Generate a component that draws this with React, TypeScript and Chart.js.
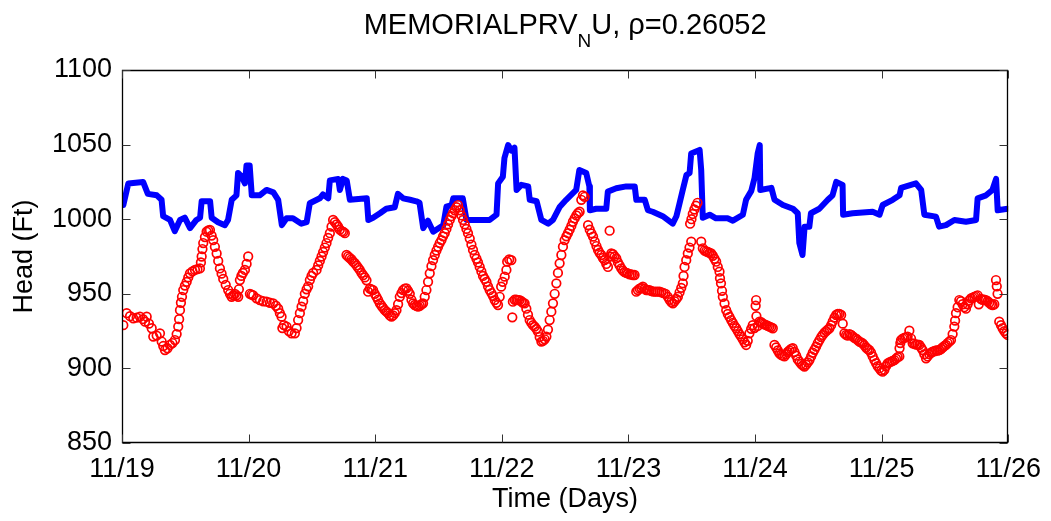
import React, { useEffect, useRef } from "react";
import { Chart, registerables } from "chart.js";

Chart.register(...registerables);

const FONT = "'Liberation Sans', Arial, Helvetica, sans-serif";

const dayLabels = ["11/19", "11/20", "11/21", "11/22", "11/23", "11/24", "11/25", "11/26"];
const dayTickHours = [0, 24, 48, 72, 96, 120, 144, 168];
const headTicks = [850, 900, 950, 1000, 1050, 1100];
const titleMain = "MEMORIALPRV";
const titleSub = "N";
const titleRest = "U, \u03C1=0.26052";
const xAxisTitle = "Time (Days)";
const yAxisTitle = "Head (Ft)";

// Simulated head (blue line), hours since 11/19 00:00
const blueHours = [
  0.25, 1.2, 4.0, 4.9, 6.6, 7.5, 7.8, 9.1, 10.0, 11.0, 11.9, 12.9, 14.1, 14.8, 15.1, 16.7, 17.0, 18.2, 19.5, 20.1,
  20.8, 21.7, 22.0, 22.7, 23.3, 23.6, 24.2, 24.6, 26.1, 27.4, 28.7, 29.6, 30.3, 31.2, 32.4, 34.0, 35.0, 35.6, 37.5, 38.1,
  39.1, 39.4, 41.0, 41.3, 41.9, 42.6, 43.2, 46.4, 46.7, 47.6, 48.9, 50.1, 51.7, 52.3, 53.3, 54.6, 55.8, 56.4, 57.1, 58.0,
  59.0, 60.9, 61.5, 62.5, 62.8, 64.6, 65.3, 69.7, 71.0, 71.3, 72.2, 72.5, 73.2, 73.8, 74.4, 74.8, 75.7, 77.0, 77.3, 78.6,
  79.5, 80.8, 81.7, 83.0, 84.2, 86.1, 86.7, 88.0, 88.6, 88.7, 89.9, 91.8, 92.1, 93.7, 95.6, 97.2, 97.5, 99.1, 99.7, 100.6,
  102.5, 104.4, 105.1, 105.7, 106.3, 107.0, 107.6, 107.9, 109.5, 109.8, 110.1, 111.4, 112.6, 114.8, 115.8, 117.7, 118.3, 119.3, 119.9, 120.5,
  120.9, 121.0, 123.1, 123.7, 125.3, 127.2, 128.1, 128.4, 129.0, 129.4, 130.3, 130.6, 132.2, 133.8, 134.7, 135.4, 136.6, 136.7, 138.5, 142.3,
  143.6, 144.2, 146.1, 147.4, 147.7, 150.5, 151.5, 152.1, 154.3, 154.9, 156.2, 157.8, 160.0, 161.9, 162.2, 163.8, 165.0, 165.7, 166.0, 167.9,
];
const blueHead = [
  1009.5, 1024, 1025, 1017, 1016, 1013, 1002, 999.5, 992, 999.5, 1001, 994, 999.5, 1001, 1012, 1012, 1001, 998, 996, 999.5,
  1013, 1016, 1031, 1028.5, 1024, 1036, 1036, 1016, 1016, 1019.6, 1018, 1013, 996, 1000.6, 1000.6, 997, 998, 1010.7, 1014, 1016.6,
  1014, 1026, 1027, 1019.6, 1027, 1026, 1013, 1014, 999.5, 1001, 1004, 1007, 1008, 1017, 1014, 1013, 1012, 1011, 994, 999,
  991.6, 996, 1008.4, 1009.5, 1014, 1014, 999.5, 999.5, 1003, 1024, 1028.5, 1041, 1049.7, 1046, 1048, 1019.6, 1023, 1022, 1013, 1012,
  999.5, 997, 999.5, 1008.4, 1013, 1019.6, 1033, 1031, 1022, 1006, 1007, 1007, 1018.5, 1020.7, 1022, 1022, 1013, 1013, 1006, 1005,
  1002, 997, 1002, 1010.7, 1019.6, 1029.6, 1031, 1044, 1046.4, 1033, 1001, 1003, 1000.6, 1000.6, 999, 1003, 1013, 1019, 1027.4, 1044,
  1049.7, 1019.6, 1021, 1013, 1009.5, 1007, 1004, 984, 976, 995, 995, 1004, 1007, 1013, 1016, 1025, 1023, 1003, 1004, 1005,
  1003, 1009.5, 1013, 1016, 1021, 1024, 1019.6, 1003, 1001.7, 995, 996, 999.5, 998.3, 999.5, 1014, 1016, 1019.6, 1027, 1006, 1007,
];

// Measured head (red circles), hours since 11/19 00:00
const redHours = [
  0.25, 0.89, 1.52, 2.14, 2.78, 3.41, 3.98, 4.36, 4.68, 5.11, 5.63, 5.93, 6.57, 7.2, 7.52, 7.82, 8.14, 8.62, 9.09, 9.56,
  10.04, 10.36, 10.66, 10.83, 10.99, 11.17, 11.37, 11.61, 11.93, 12.26, 12.56, 12.88, 13.35, 13.83, 14.3, 14.77, 14.96, 15.1, 15.25, 15.4,
  15.72, 16.04, 16.35, 16.67, 16.99, 17.29, 17.61, 17.94, 18.24, 18.56, 18.88, 19.19, 19.66, 20.13, 20.46, 20.78, 21.08, 21.4, 21.72, 22.03,
  22.16, 22.35, 22.63, 22.92, 23.3, 23.62, 23.92, 24.25, 24.57, 24.87, 25.51, 26.14, 26.77, 27.41, 28.03, 28.66, 29.17, 29.61, 29.93, 30.25,
  30.4, 30.69, 31.2, 31.63, 32.14, 32.77, 33.09, 33.39, 33.72, 34.04, 34.34, 34.66, 34.99, 35.29, 35.61, 35.93, 36.24, 36.88, 37.19, 37.5,
  37.83, 38.13, 38.45, 38.77, 39.08, 39.4, 39.72, 40.02, 40.35, 40.67, 40.97, 41.29, 41.67, 41.96, 42.24, 42.56, 42.86, 43.18, 43.51, 43.81,
  44.13, 44.46, 44.76, 45.08, 45.4, 45.71, 46.03, 46.35, 46.65, 46.97, 47.29, 47.6, 47.92, 48.24, 48.54, 48.87, 49.19, 49.49, 49.82, 50.14,
  50.44, 50.76, 51.09, 51.39, 51.71, 52.03, 52.34, 52.66, 52.98, 53.28, 53.6, 53.92, 54.23, 54.55, 54.87, 55.18, 55.5, 55.82, 56.12, 56.45,
  56.77, 57.07, 57.39, 57.71, 58.02, 58.34, 58.66, 58.97, 59.29, 59.61, 59.92, 60.23, 60.56, 60.86, 61.18, 61.5, 61.81, 62.13, 62.45, 62.75,
  63.07, 63.4, 63.7, 64.02, 64.34, 64.65, 64.97, 65.29, 65.59, 65.92, 66.24, 66.54, 66.86, 67.19, 67.49, 67.81, 68.13, 68.44, 68.76, 69.08,
  69.38, 69.7, 70.03, 70.33, 70.65, 70.98, 71.28, 71.6, 71.88, 72.17, 72.55, 72.87, 73.02, 73.4, 73.81, 73.99, 74.1, 74.43, 74.75, 75.05,
  75.37, 75.7, 76.0, 76.33, 76.65, 76.96, 77.28, 77.6, 77.91, 78.23, 78.55, 78.86, 79.18, 79.5, 79.8, 80.13, 80.45, 80.75, 81.07, 81.39,
  81.7, 82.02, 82.34, 82.64, 82.96, 83.29, 83.59, 83.91, 84.24, 84.54, 84.86, 85.18, 85.48, 85.81, 86.13, 86.43, 86.75, 87.07, 87.38, 87.7,
  88.35, 88.67, 88.99, 89.3, 89.62, 89.94, 90.24, 90.54, 90.86, 91.17, 91.49, 91.81, 92.12, 92.44, 92.5, 92.76, 93.07, 93.38, 93.7, 94.01,
  94.33, 94.65, 94.96, 95.28, 95.6, 95.9, 96.23, 96.55, 96.85, 97.17, 97.49, 97.8, 98.12, 98.44, 98.74, 99.07, 99.39, 99.69, 100.01, 100.39,
  100.77, 101.15, 101.53, 101.91, 102.29, 102.66, 103.04, 103.48, 103.8, 104.12, 104.43, 104.75, 105.07, 105.38, 105.7, 106.02, 106.32, 106.45, 106.64, 106.96,
  107.26, 107.58, 107.91, 107.7, 107.95, 108.2, 108.5, 108.8, 109.1, 109.8, 110.1, 110.43, 110.75, 111.05, 111.37, 111.69, 112.0, 112.32, 112.64, 112.94,
  113.27, 113.36, 113.55, 113.74, 113.9, 114.22, 114.54, 114.84, 115.16, 115.48, 115.79, 116.11, 116.43, 116.73, 117.05, 117.37, 117.68, 118.0, 118.32, 118.62,
  118.94, 119.27, 119.57, 119.89, 120.12, 120.21, 120.27, 120.53, 120.85, 121.17, 121.47, 121.79, 122.12, 122.42, 122.74, 123.06, 123.37, 123.69, 124.01, 124.32,
  124.64, 124.96, 125.26, 125.58, 125.91, 126.21, 126.53, 126.85, 127.16, 127.48, 127.8, 128.1, 128.42, 128.75, 129.05, 129.37, 129.69, 130.0, 130.32, 130.64,
  130.95, 131.27, 131.59, 131.9, 132.22, 132.54, 132.84, 133.17, 133.49, 133.79, 134.11, 134.43, 134.74, 135.06, 135.38, 135.68, 136.0, 136.33, 136.63, 136.95,
  137.27, 137.57, 137.89, 138.21, 138.52, 138.84, 139.16, 139.46, 139.78, 140.11, 140.41, 140.73, 141.05, 141.36, 141.68, 142.0, 142.31, 142.63, 142.95, 143.25,
  143.58, 143.9, 144.2, 144.52, 144.84, 145.15, 145.47, 145.79, 146.09, 146.41, 146.74, 147.04, 147.36, 147.4, 147.55, 147.68, 147.99, 148.31, 148.63, 148.93,
  149.26, 149.58, 149.88, 150.2, 150.53, 150.83, 151.15, 151.47, 151.78, 152.1, 152.42, 152.72, 153.04, 153.37, 153.67, 153.99, 154.31, 154.62, 154.94, 155.26,
  155.56, 155.88, 156.21, 156.51, 156.83, 157.15, 157.46, 157.78, 157.93, 158.1, 158.41, 158.73, 159.05, 159.35, 159.67, 159.99, 160.3, 160.62, 160.94, 161.25,
  161.57, 161.89, 162.2, 162.42, 162.84, 163.14, 163.46, 163.78, 164.09, 164.41, 164.73, 165.04, 165.36, 165.68, 165.83, 165.98, 166.3, 166.63, 166.93, 167.25,
  167.57, 167.88,
];
const redHead = [
  929, 937, 935, 933.6, 934, 934.7, 933, 931.3, 934.7, 930, 926.9, 921.3, 922, 923.5, 918, 915, 912.3, 913.5, 915.7, 917,
  919, 923, 928, 933, 939, 944, 948, 952.5, 955.5, 958, 961, 963.7, 965, 966, 966.5, 967, 971, 975, 980, 984,
  988, 991.6, 992.5, 992.8, 989, 986, 981.5, 977, 972, 967, 963.5, 960, 956, 952.5, 950, 948, 949, 950, 949, 948,
  953, 959.2, 962, 964, 966, 970, 975, 950, 949.5, 949, 947, 945.8, 945, 944.7, 944, 943.6, 942, 940, 937, 934.7,
  927, 929, 928, 925, 923.5, 923.5, 927, 932.4, 937, 941.4, 945, 950, 953, 955, 959.2, 962, 964, 966, 969, 972,
  975, 978, 981, 984, 987.5, 990.6, 995, 999.5, 998, 996.5, 995, 993, 992, 991.5, 990.6, 976, 975, 974, 973, 971.5,
  970.5, 969, 967.5, 966, 964, 962.5, 961, 959, 951.4, 953.5, 953, 952.5, 950, 948, 946, 943.6, 942, 940.5, 939, 938,
  937, 935.5, 934.7, 935.5, 937, 939, 943, 948, 950.5, 952.5, 953.5, 953.7, 952, 950, 946, 943.6, 942.5, 942, 941.4, 942,
  943, 943.6, 948, 952.5, 958, 963.7, 968.5, 972.6, 976, 979, 981.5, 984, 986, 988.5, 990.6, 993.5, 996.5, 999.5, 1002, 1004,
  1006, 1008, 1009.5, 1006, 1002.5, 999.5, 996.5, 993.5, 990.6, 987, 983, 979.4, 976, 973.5, 971, 968, 965, 962, 960, 958,
  955, 952.5, 950.5, 948.5, 945.8, 944, 942.5, 948, 954.8, 958, 961.5, 966, 971.5, 973, 972.6, 934.2, 944.7, 946, 946, 945.8,
  945.8, 945, 944, 943.6, 940, 936, 932.4, 930.5, 929, 928, 926.5, 924.6, 921, 918, 918.5, 919.5, 921.3, 926, 932.4, 938,
  943.6, 950, 957, 964, 970.4, 976, 981.6, 986, 988.5, 990.6, 993, 995.5, 998.3, 1000.5, 1002.5, 1004, 1005, 1013, 1016, 1015,
  996, 993, 990.5, 988.3, 985, 982, 979.4, 977.5, 976, 974, 972.6, 970, 968, 992.3, 975, 977, 976.5, 975, 973.8, 971,
  969, 967, 965.5, 964.5, 964, 963.7, 963, 963, 962.6, 962.6, 951.4, 952.5, 953.5, 954, 954.8, 953.5, 952.5, 952.5, 952.5, 951.8,
  951.5, 951.5, 951.4, 951.4, 951, 950.5, 950, 948, 946, 944.5, 943.6, 945, 946.5, 948, 951, 954, 957, 962, 968, 972.5,
  977, 981, 985, 997, 1000, 1003.5, 1006.5, 1009, 1011, 985, 980.5, 979, 978.5, 978, 977.5, 977, 975.5, 973.5, 971.5, 968,
  964.8, 960.5, 957, 952, 948, 943.5, 939, 936.5, 934.5, 932.4, 930.5, 928.5, 926.9, 925, 923, 921.3, 919.5, 917.5, 915.7, 918.5,
  923.5, 926.5, 929, 927, 942, 945.8, 935, 928.5, 931.3, 931, 930, 929.5, 929, 928.5, 928, 927.5, 926.9, 915.7, 914, 912,
  910, 909, 908.5, 908, 909.5, 911, 912, 913, 913.5, 911, 908.5, 906, 904.6, 903, 902, 901.2, 902.5, 904, 905.6, 908,
  910.5, 912.5, 914.6, 917, 919, 921, 922.4, 924, 925, 926, 926.9, 929, 931.5, 934, 935.8, 936.5, 936.5, 935.8, 930, 923.5,
  922.5, 922, 923, 922.5, 921.5, 920.5, 920, 919, 918, 917.5, 916.8, 915.5, 914, 913, 912.3, 910.5, 908, 905.6, 903.5, 901.5,
  900, 898.5, 897.8, 899, 901.5, 903.4, 904, 904.5, 905, 905.6, 906.5, 907.5, 908, 913.5, 917, 919, 920, 920.5, 921, 921.3,
  925.3, 920, 916.8, 916.5, 916, 916, 915.7, 914, 912.3, 909.5, 906.8, 908, 909.5, 910.5, 911.2, 911.5, 912, 912, 912.3, 913,
  914, 915, 915.7, 917, 918, 919, 923, 928, 932, 937, 941, 945.8, 945, 943, 941, 940, 943, 945.5, 947, 947.5,
  948, 948.5, 949, 943, 946.5, 946, 946, 945.8, 945, 944, 943, 942.5, 943, 959.2, 955, 950, 931.3, 929, 926.9, 925,
  923.5, 922.4,
];

const framePlugin = {
  id: "matlabFrame",
  afterDraw(chart: any) {
    const { ctx, chartArea } = chart;
    const { left, right, top, bottom } = chartArea;
    const xs = chart.scales.x;
    const ys = chart.scales.y;
    const L = Math.round(left) + 0.5;
    const R = Math.round(right) - 0.5;
    const T = Math.round(top) + 0.5;
    const B = Math.round(bottom) - 0.5;
    ctx.save();
    ctx.strokeStyle = "#000";
    ctx.lineWidth = 1.3;
    ctx.beginPath();
    ctx.rect(L, T, R - L, B - T);
    ctx.stroke();
    ctx.lineWidth = 1;
    ctx.strokeStyle = "#333";
    const tl = 8;
    ctx.beginPath();
    dayTickHours.forEach((v) => {
      const px = Math.round(xs.getPixelForValue(v)) + 0.5;
      ctx.moveTo(px, B);
      ctx.lineTo(px, B - tl);
      ctx.moveTo(px, T);
      ctx.lineTo(px, T + tl);
    });
    headTicks.forEach((v) => {
      const py = Math.round(ys.getPixelForValue(v)) + 0.5;
      ctx.moveTo(L, py);
      ctx.lineTo(L + tl, py);
      ctx.moveTo(R, py);
      ctx.lineTo(R - tl, py);
    });
    ctx.stroke();

    // title with subscript
    const mainFont = `29px ${FONT}`;
    const subFont = `19px ${FONT}`;
    ctx.fillStyle = "#000";
    ctx.textBaseline = "alphabetic";
    ctx.textAlign = "left";
    ctx.font = mainFont;
    const w1 = ctx.measureText(titleMain).width;
    const w3 = ctx.measureText(titleRest).width;
    ctx.font = subFont;
    const w2 = ctx.measureText(titleSub).width;
    const total = w1 + w2 + w3;
    const cx = (left + right) / 2;
    let x0 = cx - total / 2;
    const baseY = 34;
    ctx.font = mainFont;
    ctx.fillText(titleMain, x0, baseY);
    x0 += w1;
    ctx.font = subFont;
    ctx.fillText(titleSub, x0, baseY + 13);
    x0 += w2;
    ctx.font = mainFont;
    ctx.fillText(titleRest, x0, baseY);
    ctx.restore();
  },
};

export default function App() {
  const canvasRef = useRef<HTMLCanvasElement | null>(null);

  useEffect(() => {
    document.body.style.margin = "0";
    const canvas = canvasRef.current;
    if (!canvas) return;
    const redData = redHours.map((h, i) => ({ x: h, y: redHead[i] }));
    const blueData = blueHours.map((h, i) => ({ x: h, y: blueHead[i] }));
    const chart = new Chart(canvas, {
      type: "scatter",
      data: {
        datasets: [
          {
            label: "Measured",
            data: redData,
            showLine: false,
            pointStyle: "circle",
            pointRadius: 4.3,
            pointBorderWidth: 1.7,
            borderColor: "#ff0000",
            backgroundColor: "rgba(0,0,0,0)",
            order: 0,
          },
          {
            label: "Simulated",
            data: blueData,
            showLine: true,
            borderColor: "#0000ff",
            backgroundColor: "#0000ff",
            borderWidth: 6,
            pointRadius: 0,
            tension: 0,
            borderJoinStyle: "round",
            borderCapStyle: "round",
            order: 1,
          },
        ],
      },
      options: {
        responsive: false,
        animation: false,
        events: [],
        layout: { padding: { top: 70, right: 42, left: 0, bottom: 0 } },
        plugins: {
          legend: { display: false },
          tooltip: { enabled: false },
          title: { display: false },
        },
        scales: {
          x: {
            type: "linear",
            position: "bottom",
            min: 0,
            max: 168,
            afterFit: (s: any) => {
              s.height = 78;
            },
            afterBuildTicks: (s: any) => {
              s.ticks = dayTickHours.map((v) => ({ value: v }));
            },
            grid: { display: false, drawTicks: false },
            border: { display: false },
            ticks: {
              autoSkip: false,
              maxRotation: 0,
              padding: 10,
              color: "#000",
              font: { family: FONT, size: 27 },
              callback: (_v: any, i: number) => dayLabels[i],
            },
            title: {
              display: true,
              text: xAxisTitle,
              color: "#000",
              font: { family: FONT, size: 27 },
              padding: { top: 0, bottom: 5 },
            },
          },
          y: {
            type: "linear",
            min: 850,
            max: 1100,
            afterFit: (s: any) => {
              s.width = 122;
            },
            afterBuildTicks: (s: any) => {
              s.ticks = headTicks.map((v) => ({ value: v }));
            },
            grid: { display: false, drawTicks: false },
            border: { display: false },
            ticks: {
              padding: 10,
              color: "#000",
              font: { family: FONT, size: 27 },
              callback: (v: any) => String(v),
            },
            title: {
              display: true,
              text: yAxisTitle,
              color: "#000",
              font: { family: FONT, size: 27 },
              padding: { top: 8, bottom: 0 },
            },
          },
        },
      },
      plugins: [framePlugin],
    } as any);
    return () => chart.destroy();
  }, []);

  return (
    <div style={{ position: "absolute", left: 0, top: 0, width: 1051, height: 521, background: "#fff" }}>
      <canvas ref={canvasRef} width={1051} height={521} style={{ display: "block" }} />
    </div>
  );
}
